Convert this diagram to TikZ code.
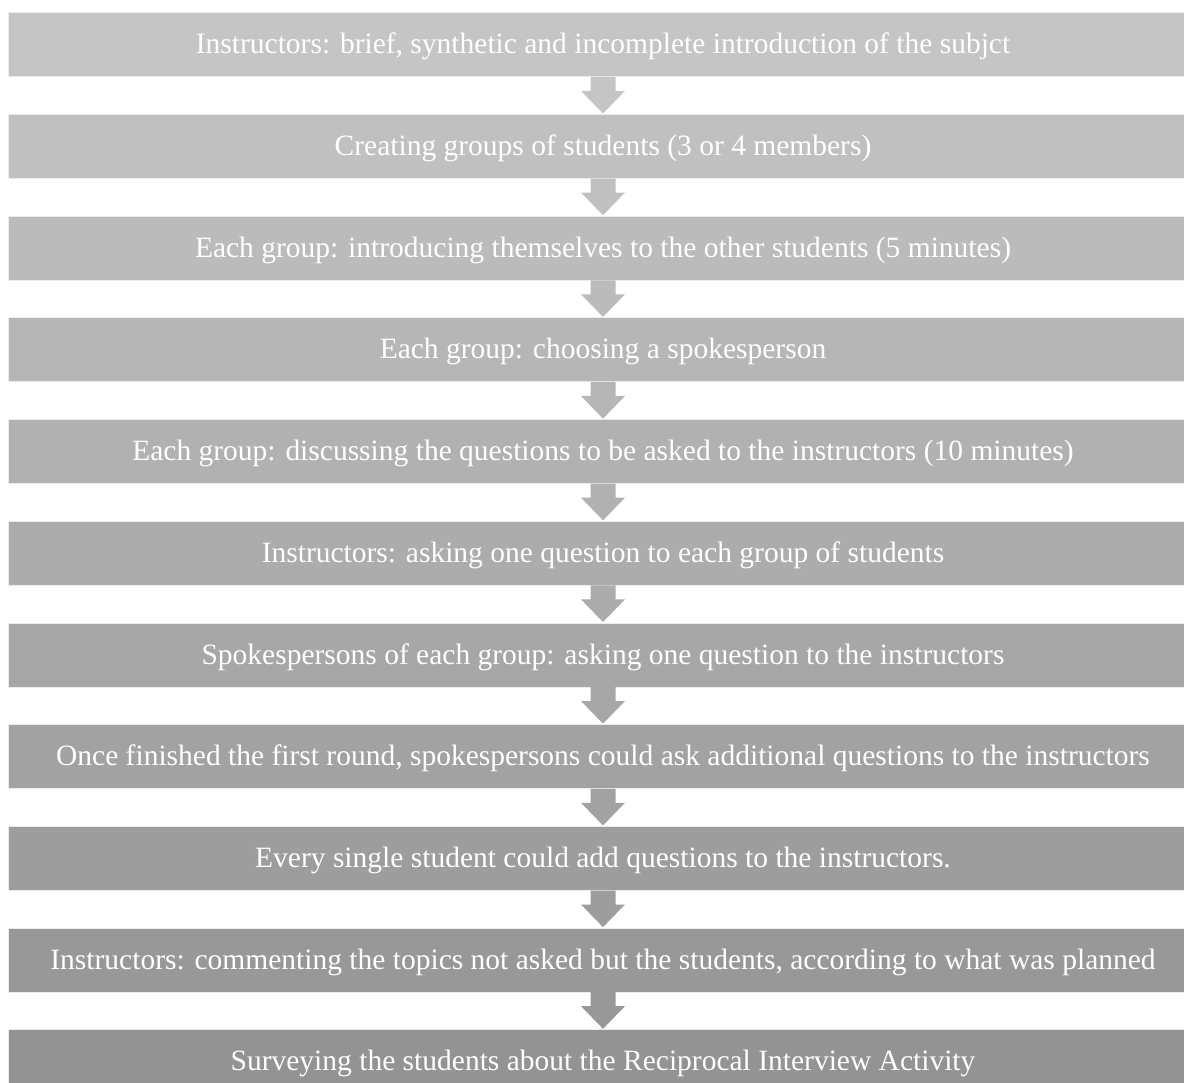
\documentclass[tikz,border=0pt]{standalone}
\usepackage{fontspec}
\setmainfont{Liberation Serif}
\usetikzlibrary{calc}
\definecolor{g1}{HTML}{C5C5C5}
\definecolor{g2}{HTML}{C0C0C0}
\definecolor{g3}{HTML}{BBBBBB}
\definecolor{g4}{HTML}{B6B6B6}
\definecolor{g5}{HTML}{B1B1B1}
\definecolor{g6}{HTML}{ACACAC}
\definecolor{g7}{HTML}{A7A7A7}
\definecolor{g8}{HTML}{A2A2A2}
\definecolor{g9}{HTML}{9D9D9D}
\definecolor{g10}{HTML}{989898}
\definecolor{g11}{HTML}{939393}
\tikzset{
  barbox/.style={draw=white!85!gray, line width=0.6pt, fill=#1, minimum width=1189.7pt, minimum height=64pt,
    inner sep=0pt, text=white, font=\fontsize{29.5}{33}\selectfont, text height=22pt, text depth=3.4pt, anchor=north}
}
\newcommand{\flowarrow}[3]{%
  \fill[#3] ($(#1.south)+(-12.5pt,0)$) -- ($(#1.south)+(-12.5pt,-14pt)$) -- ($(#1.south)+(-22pt,-14pt)$)
    -- ($(#2.north)+(0,0.5pt)$) -- ($(#1.south)+(22pt,-14pt)$) -- ($(#1.south)+(12.5pt,-14pt)$)
    -- ($(#1.south)+(12.5pt,0)$) -- cycle;}
\begin{document}
\begin{tikzpicture}[x=1pt,y=1pt]
\useasboundingbox (0,0) rectangle (1184,-1083);
\clip (0,0) rectangle (1184,-1083);
\node[barbox=g1] (b1) at (603,-12.3) {Instructors: brief, synthetic and incomplete introduction of the subjct};
\node[barbox=g2] (b2) at (603,-114.0) {Creating groups of students (3 or 4 members)};
\node[barbox=g3] (b3) at (603,-215.7) {Each group: introducing themselves to the other students (5 minutes)};
\node[barbox=g4] (b4) at (603,-317.4) {Each group: choosing a spokesperson};
\node[barbox=g5] (b5) at (603,-419.1) {Each group: discussing the questions to be asked to the instructors (10 minutes)};
\node[barbox=g6] (b6) at (603,-520.8) {Instructors: asking one question to each group of students};
\node[barbox=g7] (b7) at (603,-622.5) {Spokespersons of each group: asking one question to the instructors};
\node[barbox=g8] (b8) at (603,-724.2) {Once finished the first round, spokespersons could ask additional questions to the instructors};
\node[barbox=g9] (b9) at (603,-825.9) {Every single student could add questions to the instructors.};
\node[barbox=g10] (b10) at (603,-927.6) {Instructors: commenting the topics not asked but the students, according to what was planned};
\node[barbox=g11] (b11) at (603,-1029.3) {Surveying the students about the Reciprocal Interview Activity};
\flowarrow{b1}{b2}{g1}
\flowarrow{b2}{b3}{g2}
\flowarrow{b3}{b4}{g3}
\flowarrow{b4}{b5}{g4}
\flowarrow{b5}{b6}{g5}
\flowarrow{b6}{b7}{g6}
\flowarrow{b7}{b8}{g7}
\flowarrow{b8}{b9}{g8}
\flowarrow{b9}{b10}{g9}
\flowarrow{b10}{b11}{g10}
\end{tikzpicture}
\end{document}
